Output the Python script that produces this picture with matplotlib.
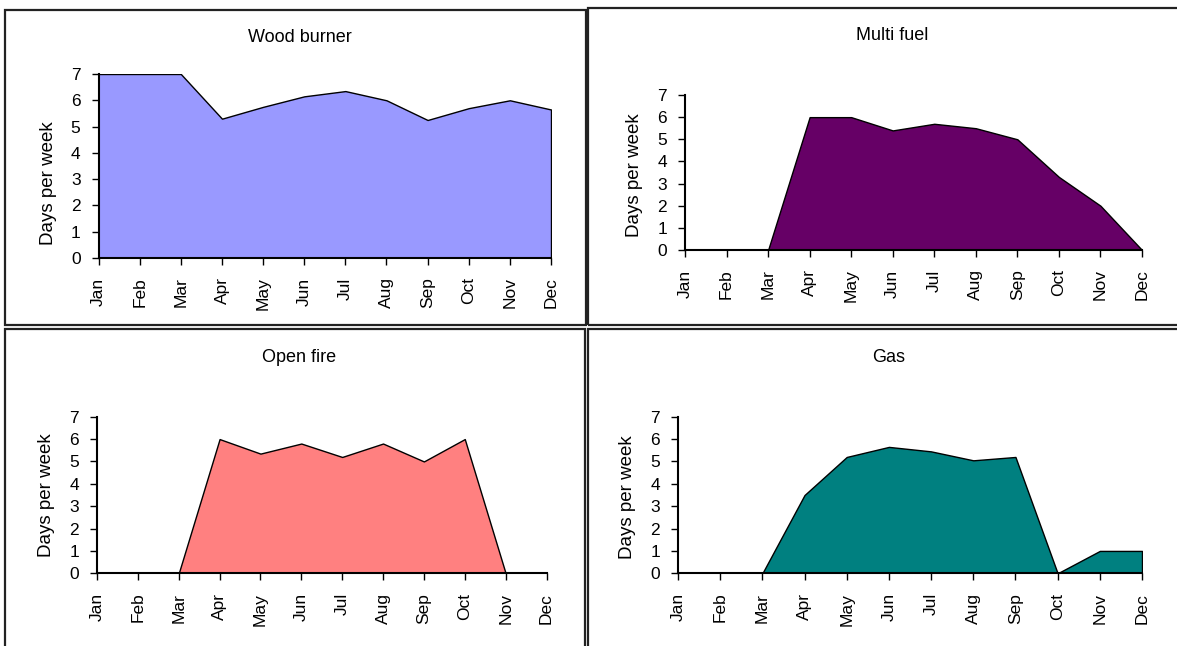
import matplotlib
matplotlib.use("Agg")
import matplotlib.pyplot as plt
from matplotlib.patches import Rectangle

plt.rcParams['font.family'] = ['Liberation Sans', 'DejaVu Sans']

months = ["Jan", "Feb", "Mar", "Apr", "May", "Jun", "Jul", "Aug", "Sep", "Oct", "Nov", "Dec"]

wood_burner = [7, 7, 7, 5.3, 5.75, 6.15, 6.35, 6.0, 5.25, 5.7, 6.0, 5.65]
multi_fuel = [0, 0, 0, 6.0, 6.0, 5.4, 5.7, 5.5, 5.0, 3.3, 2.0, 0]
open_fire = [0, 0, 0, 6.0, 5.35, 5.8, 5.2, 5.8, 5.0, 6.0, 0, 0]
gas = [0, 0, 0, 3.5, 5.2, 5.65, 5.45, 5.05, 5.2, 0, 1.0, 1.0]

W, H = 1177, 646
fig = plt.figure(figsize=(W / 100, H / 100), dpi=100)


def px_rect(x0, y0, x1, y1):
    # pixel box (top-left origin) -> figure fraction [left, bottom, width, height]
    return [x0 / W, 1 - y1 / H, (x1 - x0) / W, (y1 - y0) / H]


panels = [
    # title, values, colour, axes box, title pos, ylabel pos, frame box
    ("Wood burner", wood_burner, "#9999FF", (98.6, 74, 551, 258), (300, 38), (57, 183), (5, 10, 586, 325)),
    ("Multi fuel", multi_fuel, "#660066", (685, 95, 1142, 250), (892, 36), (643, 175), (588, 8, 1190, 325)),
    ("Open fire", open_fire, "#FF8080", (97, 416.7, 546.5, 573.3), (299, 358), (55, 495), (5, 329, 585, 660)),
    ("Gas", gas, "#008080", (678, 416.7, 1142, 573.3), (889, 358), (636, 497), (588, 329, 1190, 660)),
]

for title, vals, colour, box, tpos, ypos, frame in panels:
    fig.patches.append(Rectangle((frame[0] / W, 1 - frame[3] / H),
                                 (frame[2] - frame[0]) / W, (frame[3] - frame[1]) / H,
                                 transform=fig.transFigure, fill=False,
                                 edgecolor="#222222", linewidth=1.6))

    ax = fig.add_axes(px_rect(*box))
    x = list(range(len(months)))
    ax.fill_between(x, vals, 0, facecolor=colour, edgecolor="black", linewidth=1.0)
    ax.set_xlim(0, 11)
    ax.set_ylim(0, 7)
    ax.set_yticks(range(8))
    ax.set_xticks(x)
    ax.set_xticklabels(months, rotation=90, fontsize=12.5)
    ax.tick_params(axis="y", labelsize=12.5, length=5, width=1, direction="out", pad=8)
    ax.tick_params(axis="x", length=5, width=1, direction="out", pad=9)
    for side in ("top", "right"):
        ax.spines[side].set_visible(False)
    for side in ("left", "bottom"):
        ax.spines[side].set_linewidth(1.5)
    ax.set_facecolor("none")

    ax.set_ylabel("Days per week", fontsize=13.5)
    ax.yaxis.set_label_coords(ypos[0] / W, 1 - ypos[1] / H, transform=fig.transFigure)
    fig.text(tpos[0] / W, 1 - tpos[1] / H, title, ha="center", va="center", fontsize=13)

fig.savefig("out.png", dpi=100)
